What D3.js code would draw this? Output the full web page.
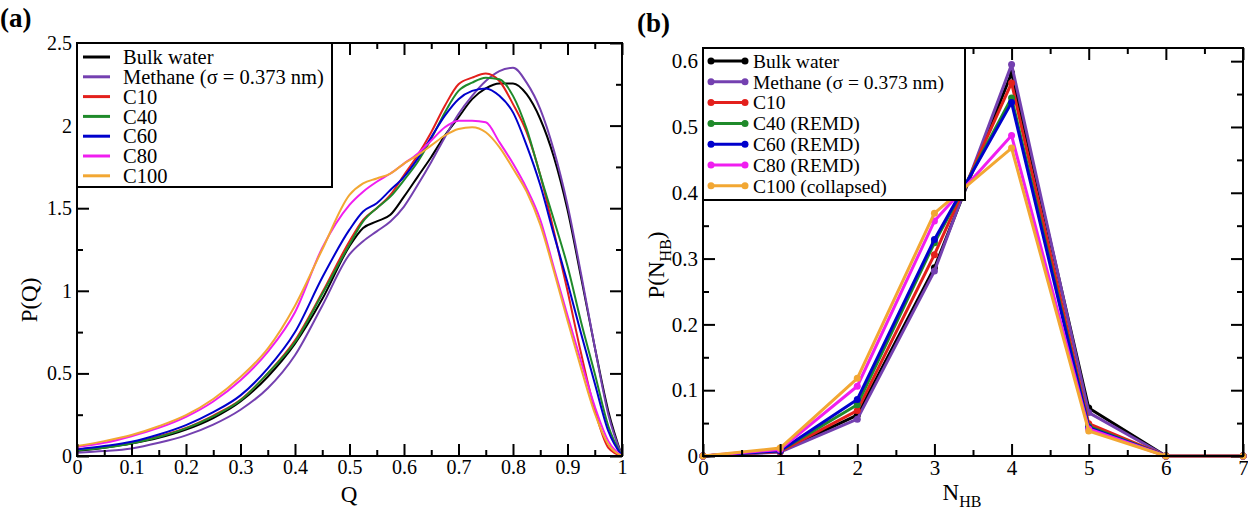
<!DOCTYPE html>
<html>
<head>
<meta charset="utf-8">
<script src="https://cdn.jsdelivr.net/npm/d3@7"></script>
<style>
  body { margin: 0; background: #fff; }
  svg { display: block; font-family: "Liberation Serif", "DejaVu Serif", serif; }
</style>
</head>
<body>
<div id="chart"></div>
<script>
// ---- panel (a): P(Q) ----
const qValues = [0, 0.05, 0.1, 0.15, 0.2, 0.25, 0.3, 0.35, 0.4, 0.45, 0.5, 0.525, 0.55, 0.575, 0.6, 0.625,
    0.65, 0.675, 0.7, 0.725, 0.75, 0.775, 0.8, 0.825, 0.85, 0.875, 0.9, 0.925, 0.95, 0.975, 1]

const pqBulk    = [0.03, 0.05, 0.075, 0.11, 0.16, 0.23, 0.33, 0.48, 0.68, 0.95, 1.27, 1.38, 1.42, 1.46, 1.57, 1.69,
    1.81, 1.94, 2.05, 2.16, 2.225, 2.255, 2.255, 2.19, 2.04, 1.81, 1.49, 1.08, 0.66, 0.27, 0]
const pqMethane = [0.02, 0.03, 0.046, 0.08, 0.125, 0.19, 0.28, 0.41, 0.61, 0.91, 1.22, 1.3, 1.36, 1.42, 1.51, 1.64,
    1.78, 1.93, 2.07, 2.18, 2.27, 2.33, 2.35, 2.26, 2.1, 1.85, 1.52, 1.1, 0.66, 0.25, 0]
const pqC10     = [0.04, 0.055, 0.078, 0.12, 0.17, 0.245, 0.34, 0.5, 0.7, 0.99, 1.3, 1.43, 1.5, 1.58, 1.7, 1.82,
    1.96, 2.12, 2.25, 2.29, 2.315, 2.27, 2.13, 1.96, 1.7, 1.36, 1.0, 0.62, 0.28, 0.05, 0]
const pqC40     = [0.035, 0.05, 0.076, 0.115, 0.167, 0.24, 0.337, 0.5, 0.69, 0.98, 1.28, 1.42, 1.5, 1.57, 1.67, 1.78,
    1.92, 2.08, 2.21, 2.26, 2.29, 2.28, 2.18, 1.98, 1.7, 1.43, 1.15, 0.81, 0.5, 0.18, 0]
const pqC60     = [0.04, 0.06, 0.086, 0.13, 0.187, 0.265, 0.367, 0.53, 0.75, 1.08, 1.37, 1.48, 1.53, 1.61, 1.69, 1.8,
    1.93, 2.06, 2.16, 2.21, 2.225, 2.18, 2.08, 1.88, 1.64, 1.34, 1.05, 0.74, 0.44, 0.15, 0]
const pqC80     = [0.055, 0.08, 0.12, 0.17, 0.237, 0.33, 0.458, 0.63, 0.87, 1.26, 1.52, 1.6, 1.66, 1.71, 1.77, 1.83,
    1.91, 1.99, 2.03, 2.03, 2.02, 1.9, 1.77, 1.62, 1.43, 1.14, 0.85, 0.57, 0.3, 0.09, 0]
const pqC100    = [0.06, 0.09, 0.127, 0.18, 0.247, 0.345, 0.478, 0.65, 0.91, 1.25, 1.58, 1.65, 1.68, 1.71, 1.77, 1.82,
    1.88, 1.94, 1.98, 1.99, 1.96, 1.87, 1.74, 1.6, 1.4, 1.12, 0.82, 0.53, 0.26, 0.07, 0]

// ---- panel (b): P(N_HB) ----
const nhbValues   = [0, 1, 2, 3, 4, 5, 6, 7]
const nhbBulk     = [0, 0.007, 0.062, 0.286, 0.582, 0.073, 0, 0]
const nhbMethane  = [0, 0.006, 0.056, 0.281, 0.595, 0.066, 0, 0]
const nhbC10      = [0, 0.007, 0.069, 0.306, 0.567, 0.049, 0, 0]
const nhbC40      = [0, 0.008, 0.078, 0.324, 0.544, 0.045, 0, 0]
const nhbC60      = [0, 0.008, 0.086, 0.329, 0.537, 0.043, 0, 0]
const nhbC80      = [0, 0.010, 0.106, 0.357, 0.487, 0.041, 0, 0]
const nhbC100     = [0, 0.012, 0.118, 0.369, 0.468, 0.038, 0, 0]

const namesA = ["Bulk water", "Methane (\u03c3 = 0.373 nm)", "C10", "C40", "C60", "C80", "C100"]
const namesB = ["Bulk water", "Methane (\u03c3 = 0.373 nm)", "C10", "C40 (REMD)", "C60 (REMD)", "C80 (REMD)", "C100 (collapsed)"]
const colors = ["#000000", "#7440b0", "#e3201c", "#1f8a2a", "#0000cc", "#f01ef0", "#f2a733"]

const qTicks = [0, 0.1, 0.2, 0.3, 0.4, 0.5, 0.6, 0.7, 0.8, 0.9, 1]
const pqTicks = [0, 0.5, 1, 1.5, 2, 2.5]
const nTicks = [0, 1, 2, 3, 4, 5, 6, 7]
const pnTicks = [0, 0.1, 0.2, 0.3, 0.4, 0.5, 0.6]

const seriesA = [pqBulk, pqMethane, pqC10, pqC40, pqC60, pqC80, pqC100]
const seriesB = [nhbBulk, nhbMethane, nhbC10, nhbC40, nhbC60, nhbC80, nhbC100]

const W = 1248, H = 510

const svg = d3.select("#chart").append("svg")
    .attr("width", W).attr("height", H)

// draws the box frame with inward ticks on all four sides
function drawFrame(g, x, y, xMajor, xMinor, yMajor, yMinor, fontSize) {
    const [x0, x1] = x.range()
    const [y0, y1] = y.range() // y0 = bottom
    const w = x1 - x0, h = y0 - y1
    const fmt = d => d3.format("~g")(d)

    const bottom = g.append("g").attr("transform", "translate(0," + y0 + ")")
        .call(d3.axisBottom(x).tickValues(xMajor).tickSize(-12).tickPadding(4).tickFormat(fmt))
    bottom.append("g").call(d3.axisBottom(x).tickValues(xMinor).tickSize(-6).tickFormat(""))
    const top = g.append("g").attr("transform", "translate(0," + y1 + ")")
        .call(d3.axisTop(x).tickValues(xMajor).tickSize(-12).tickFormat(""))
    top.append("g").call(d3.axisTop(x).tickValues(xMinor).tickSize(-6).tickFormat(""))
    const left = g.append("g").attr("transform", "translate(" + x0 + ",0)")
        .call(d3.axisLeft(y).tickValues(yMajor).tickSize(-12).tickPadding(5).tickFormat(fmt))
    left.append("g").call(d3.axisLeft(y).tickValues(yMinor).tickSize(-6).tickFormat(""))
    const right = g.append("g").attr("transform", "translate(" + x1 + ",0)")
        .call(d3.axisRight(y).tickValues(yMajor).tickSize(-12).tickFormat(""))
    right.append("g").call(d3.axisRight(y).tickValues(yMinor).tickSize(-6).tickFormat(""))

    g.selectAll(".domain").remove()
    g.selectAll(".tick line").attr("stroke", "#000").attr("stroke-width", 2)
    g.selectAll(".tick text").attr("fill", "#000")
        .style("font-size", fontSize + "px")
        .style("font-family", "'Liberation Serif', serif")

    g.append("rect")
        .attr("x", x0).attr("y", y1).attr("width", w).attr("height", h)
        .attr("fill", "none").attr("stroke", "#000").attr("stroke-width", 2)
}

// ---------- panel (a) ----------
const xA = d3.scaleLinear().domain([0, 1]).range([77, 622])
const yA = d3.scaleLinear().domain([0, 2.5]).range([456, 43])
const gA = svg.append("g")

const lineA = d3.line()
    .x((d, i) => xA(qValues[i]))
    .y(d => yA(d))
    .curve(d3.curveMonotoneX)

gA.selectAll("path.curve")
    .data(seriesA)
    .enter()
    .append("path")
    .attr("class", "curve")
    .attr("d", d => lineA(d))
    .attr("fill", "none")
    .attr("stroke", (d, i) => colors[i])
    .attr("stroke-width", 2)

drawFrame(gA, xA, yA, qTicks, d3.range(0.05, 1, 0.1), pqTicks, [0.25, 0.75, 1.25, 1.75, 2.25], 20)

// legend (a)
const legA = gA.append("g")
legA.append("rect")
    .attr("x", 77).attr("y", 43).attr("width", 255).attr("height", 144)
    .attr("fill", "#fff").attr("stroke", "#000").attr("stroke-width", 2)
namesA.forEach((name, i) => {
    const cy = 57 + i * 19.8
    legA.append("line")
        .attr("x1", 83).attr("x2", 110).attr("y1", cy).attr("y2", cy)
        .attr("stroke", colors[i]).attr("stroke-width", 3)
    legA.append("text")
        .attr("x", 123).attr("y", cy).attr("dy", "0.35em")
        .style("font-size", "20.5px")
        .text(name)
})

gA.append("text")
    .attr("x", 349).attr("y", 502)
    .attr("text-anchor", "middle")
    .style("font-size", "23px")
    .text("Q")
gA.append("text")
    .attr("transform", "translate(37,300) rotate(-90)")
    .attr("text-anchor", "middle")
    .style("font-size", "23px")
    .text("P(Q)")
gA.append("text")
    .attr("x", 0).attr("y", 27)
    .style("font-size", "27px").style("font-weight", "bold")
    .text("(a)")

// ---------- panel (b) ----------
const xB = d3.scaleLinear().domain([0, 7]).range([703, 1243])
const yB = d3.scaleLinear().domain([0, 0.62]).range([456, 48])
const gB = svg.append("g")

const lineB = d3.line()
    .x((d, i) => xB(nhbValues[i]))
    .y(d => yB(d))

const series = gB.selectAll("g.series")
    .data(seriesB)
    .enter()
    .append("g")
    .attr("class", "series")

series.append("path")
    .attr("d", d => lineB(d))
    .attr("fill", "none")
    .attr("stroke", (d, i) => colors[i])
    .attr("stroke-width", 3)
    .attr("stroke-linejoin", "round")

series.each(function (vals, si) {
    d3.select(this).selectAll("circle")
        .data(vals)
        .enter()
        .append("circle")
        .attr("cx", (d, i) => xB(nhbValues[i]))
        .attr("cy", d => yB(d))
        .attr("r", 3.5)
        .attr("fill", colors[si])
})

drawFrame(gB, xB, yB, nTicks, d3.range(0.5, 7, 1), pnTicks, d3.range(0.05, 0.6, 0.1), 21)

// legend (b)
const legB = gB.append("g")
legB.append("rect")
    .attr("x", 703).attr("y", 48).attr("width", 262).attr("height", 152)
    .attr("fill", "#fff").attr("stroke", "#000").attr("stroke-width", 2)
namesB.forEach((name, i) => {
    const cy = 61 + i * 20.8
    legB.append("line")
        .attr("x1", 711).attr("x2", 745).attr("y1", cy).attr("y2", cy)
        .attr("stroke", colors[i]).attr("stroke-width", 3)
    legB.selectAll(null)
        .data([711, 745])
        .enter()
        .append("circle")
        .attr("cx", d => d).attr("cy", cy).attr("r", 3.5)
        .attr("fill", colors[i])
    legB.append("text")
        .attr("x", 753).attr("y", cy).attr("dy", "0.35em")
        .style("font-size", "19.5px")
        .text(name)
})

const xTitle = gB.append("text")
    .attr("x", 962).attr("y", 500)
    .attr("text-anchor", "middle")
    .style("font-size", "23px")
xTitle.append("tspan").text("N")
xTitle.append("tspan").attr("dy", 7).style("font-size", "16px").text("HB")

const yTitle = gB.append("text")
    .attr("transform", "translate(664,265) rotate(-90)")
    .attr("text-anchor", "middle")
    .style("font-size", "23px")
yTitle.append("tspan").text("P(N")
yTitle.append("tspan").attr("dy", 7).style("font-size", "16px").text("HB")
yTitle.append("tspan").attr("dy", -7).text(")")

gB.append("text")
    .attr("x", 637).attr("y", 32)
    .style("font-size", "27px").style("font-weight", "bold")
    .text("(b)")
</script>
</body>
</html>
